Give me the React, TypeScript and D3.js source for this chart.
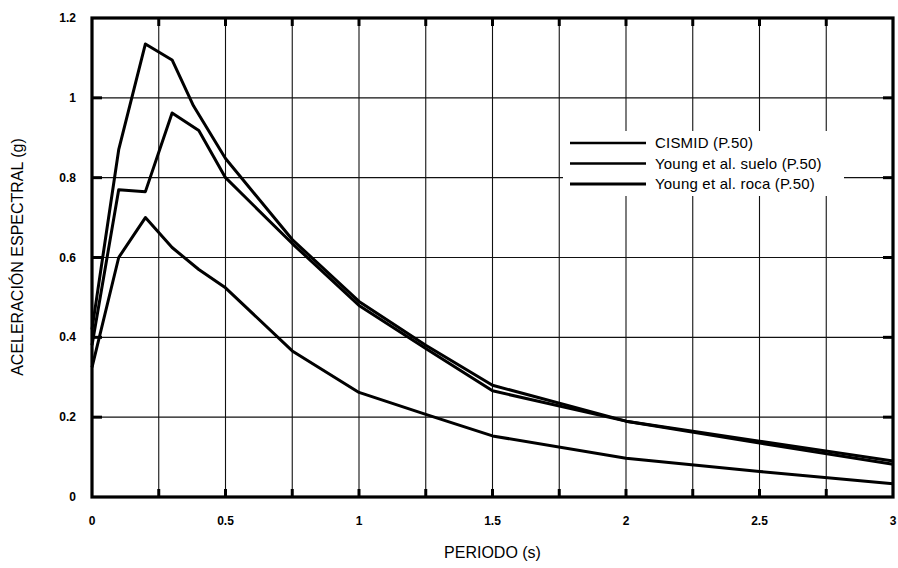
import React from "react";
import * as d3 from "d3";

// Periods (s) at which each spectrum is sampled
const periodsCismid = [0, 0.1, 0.2, 0.3, 0.38, 0.5, 0.75, 1.0, 1.25, 1.5, 2.0, 2.5, 3.0];
const cismid = [0.42, 0.87, 1.135, 1.095, 0.98, 0.848, 0.645, 0.49, 0.38, 0.28, 0.19, 0.14, 0.09];

const periodsSuelo = [0, 0.1, 0.2, 0.3, 0.4, 0.5, 0.75, 1.0, 1.25, 1.5, 2.0, 2.5, 3.0];
const suelo = [0.38, 0.77, 0.765, 0.962, 0.918, 0.8, 0.635, 0.48, 0.372, 0.266, 0.19, 0.135, 0.082];

const periodsRoca = [0, 0.1, 0.2, 0.3, 0.4, 0.5, 0.75, 1.0, 1.25, 1.5, 2.0, 2.5, 3.0];
const roca = [0.325, 0.6, 0.7, 0.625, 0.57, 0.524, 0.366, 0.262, 0.207, 0.153, 0.097, 0.064, 0.033];

const xTickLabels = [0, 0.5, 1, 1.5, 2, 2.5, 3];
const xGrid = d3.range(0, 3.0001, 0.25);
const yTickLabels = [0, 0.2, 0.4, 0.6, 0.8, 1, 1.2];

const legendLabels = ["CISMID (P.50)", "Young et al. suelo (P.50)", "Young et al. roca (P.50)"];

const W = 898;
const H = 568;
const left = 92;
const right = 893;
const top = 18;
const bottom = 497;

export default function App() {
  const x = d3.scaleLinear().domain([0, 3]).range([left, right]);
  const y = d3.scaleLinear().domain([0, 1.2]).range([bottom, top]);

  const line = d3
    .line<[number, number]>()
    .x((d) => x(d[0]))
    .y((d) => y(d[1]));

  const series: [number, number][][] = [
    periodsCismid.map((p, i) => [p, cismid[i]] as [number, number]),
    periodsSuelo.map((p, i) => [p, suelo[i]] as [number, number]),
    periodsRoca.map((p, i) => [p, roca[i]] as [number, number]),
  ];

  const font = "Arial, 'Liberation Sans', sans-serif";
  const legendX = 570;
  const legendY = [143, 163.5, 184];

  return (
    <svg
      width={W}
      height={H}
      viewBox={`0 0 ${W} ${H}`}
      style={{ position: "absolute", left: 0, top: 0, background: "#fff" }}
    >
      <rect x={0} y={0} width={W} height={H} fill="#fff" />

      {/* grid */}
      <g stroke="#111" strokeWidth={1.1}>
        {xGrid.slice(1, -1).map((t) => (
          <line key={`gx${t}`} x1={x(t)} x2={x(t)} y1={top} y2={bottom} />
        ))}
        {yTickLabels.slice(1, -1).map((t) => (
          <line key={`gy${t}`} x1={left} x2={right} y1={y(t)} y2={y(t)} />
        ))}
      </g>

      {/* inward tick marks */}
      <g stroke="#000" strokeWidth={3}>
        {xGrid.slice(1, -1).map((t) => (
          <g key={`tx${t}`}>
            <line x1={x(t)} x2={x(t)} y1={top} y2={top + 8} />
            <line x1={x(t)} x2={x(t)} y1={bottom} y2={bottom - 8} />
          </g>
        ))}
        {yTickLabels.slice(1, -1).map((t) => (
          <g key={`ty${t}`}>
            <line x1={left} x2={left + 10} y1={y(t)} y2={y(t)} />
            <line x1={right} x2={right - 10} y1={y(t)} y2={y(t)} />
          </g>
        ))}
      </g>

      {/* legend background */}
      <rect x={563} y={131} width={281} height={65} fill="#fff" />

      {/* spectra */}
      <g fill="none" stroke="#000" strokeWidth={3} strokeLinejoin="round">
        {series.map((s, i) => (
          <path key={i} d={line(s) || ""} />
        ))}
      </g>

      {/* frame */}
      <rect
        x={left}
        y={top}
        width={right - left}
        height={bottom - top}
        fill="none"
        stroke="#000"
        strokeWidth={3.2}
      />

      {/* legend */}
      <g fontFamily={font} fontSize={15}>
        {legendLabels.map((lab, i) => (
          <g key={lab}>
            <line
              x1={legendX}
              x2={legendX + 76}
              y1={legendY[i]}
              y2={legendY[i]}
              stroke="#000"
              strokeWidth={i === 2 ? 3 : 2.4}
            />
            <text x={legendX + 85} y={legendY[i] + 5} fill="#000" letterSpacing={0.2}>
              {lab}
            </text>
          </g>
        ))}
      </g>

      {/* tick labels */}
      <g fontFamily={font} fontSize={12} fontWeight="bold" fill="#000">
        {xTickLabels.map((t) => (
          <text key={`lx${t}`} x={x(t)} y={525} textAnchor="middle">
            {String(t)}
          </text>
        ))}
        {yTickLabels.map((t) => (
          <text key={`ly${t}`} x={76} y={y(t) + 4} textAnchor="end">
            {String(t)}
          </text>
        ))}
      </g>

      {/* axis titles */}
      <text
        x={(left + right) / 2}
        y={558}
        textAnchor="middle"
        fontFamily={font}
        fontSize={16}
        fill="#000"
      >
        PERIODO (s)
      </text>
      <text
        transform={`translate(23, 257) rotate(-90)`}
        textAnchor="middle"
        fontFamily={font}
        fontSize={16}
        fill="#000"
      >
        ACELERACIÓN ESPECTRAL (g)
      </text>
    </svg>
  );
}
